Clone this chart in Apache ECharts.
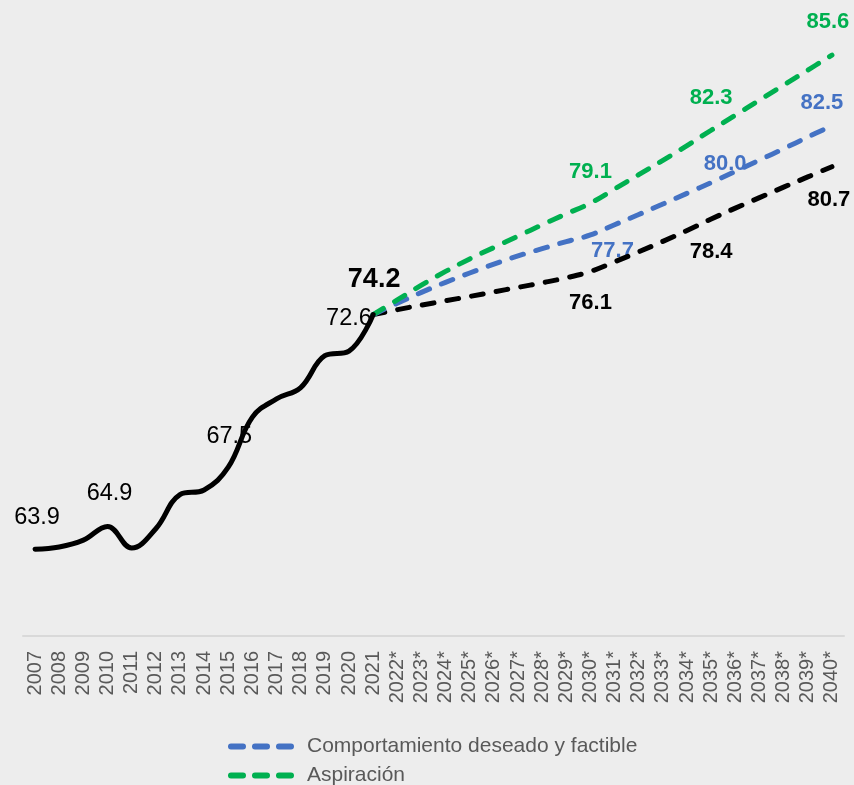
<!DOCTYPE html>
<html>
<head>
<meta charset="utf-8">
<script src="https://cdn.jsdelivr.net/npm/echarts@6/dist/echarts.min.js"></script>
<style>
  html, body { margin: 0; padding: 0; background: #ededed; }
  #chart { width: 854px; height: 785px; }
</style>
</head>
<body>
<div id="chart"></div>
<script>
// años (los marcados con * son proyección)
const years = [
  '2007', '2008', '2009', '2010', '2011', '2012', '2013', '2014', '2015', '2016',
  '2017', '2018', '2019', '2020', '2021', '2022*', '2023*', '2024*', '2025*', '2026*',
  '2027*', '2028*', '2029*', '2030*', '2031*', '2032*', '2033*', '2034*', '2035*', '2036*',
  '2037*', '2038*', '2039*', '2040*'
];

// 2007 - 2021
const historico = [63.9, 64.0, 64.3, 64.9, 63.95, 64.8, 66.3, 66.5, 67.5, 69.7, 70.5, 71.0, 72.4, 72.6, 74.2];

// 2021 - 2040
const tendencia = [74.2, 74.42, 74.62, 74.81, 75.0, 75.2, 75.4, 75.6, 75.82, 76.1, 76.52, 76.96, 77.42, 77.9, 78.4, 78.88, 79.34, 79.8, 80.25, 80.7];
const deseado = [74.2, 74.7, 75.18, 75.62, 76.03, 76.42, 76.78, 77.1, 77.41, 77.7, 78.15, 78.6, 79.06, 79.53, 80.0, 80.49, 80.99, 81.49, 82.0, 82.5];
const aspiracion = [74.2, 74.85, 75.5, 76.1, 76.65, 77.15, 77.65, 78.15, 78.63, 79.1, 79.72, 80.35, 80.98, 81.63, 82.3, 82.96, 83.62, 84.28, 84.94, 85.6];

// años con etiqueta
const etiquetasHistorico = ['2007', '2010', '2015', '2020'];
const etiquetaActual = '2021';
const etiquetasProyeccion = ['2030*', '2035*', '2040*'];

const nombreDeseado = 'Comportamiento deseado y factible';
const nombreAspiracion = 'Aspiración';

const fuente = 'Arial, "Liberation Sans", sans-serif';
const colores = { negro: '#000000', azul: '#4472c4', verde: '#00b050' };

// rellena con null fuera del tramo de la serie
const completar = (valores, inicio) =>
  years.map((_, i) => (i >= inicio && i - inicio < valores.length ? valores[i - inicio] : null));

// convierte a objetos con etiqueta los años indicados
const conEtiquetas = (valores, estilos) =>
  valores.map((v, i) => {
    const e = estilos[years[i]];
    if (v == null || !e) return v;
    return { value: v, label: Object.assign({ show: true }, e) };
  });

const inicioProy = years.indexOf('2021');

const serieHist = completar(historico, 0);
const serieTend = completar(tendencia, inicioProy);
const serieDes = completar(deseado, inicioProy);
const serieAsp = completar(aspiracion, inicioProy);

// posiciones de las etiquetas respecto al punto
const desplHist = [[2, -32], [2, -33], [1, -31], [0, -33]];
const estHist = {};
etiquetasHistorico.forEach((y, k) => { estHist[y] = { offset: desplHist[k] }; });
estHist[etiquetaActual] = { offset: [1, -35], fontSize: 27, fontWeight: 'bold' };

const desplTend = [[0, 32], [0, 33], [-3, 33]];
const desplDes = [[22, 16], [14, -19], [-10, -23]];
const desplAsp = [[0, -31], [0, -32], [-4, -33]];
const estilosProy = (despl) => {
  const r = {};
  etiquetasProyeccion.forEach((y, k) => { r[y] = { offset: despl[k] }; });
  return r;
};

const dash = [12, 13];

const serieLinea = (name, data, color, tipo, z) => ({
  name,
  type: 'line',
  data,
  z,
  smooth: 0.4,
  showSymbol: false,
  symbol: 'none',
  color,
  lineStyle: { color, width: 5, type: tipo, cap: 'round', join: 'round' },
  emphasis: { disabled: true },
  silent: true
});

// series invisibles que sólo llevan las etiquetas (quedan por debajo de las líneas)
const serieEtiquetas = (name, data, color, bold, size, z) => ({
  name,
  type: 'line',
  data,
  z,
  showSymbol: true,
  symbol: 'circle',
  symbolSize: 0,
  lineStyle: { width: 0, opacity: 0 },
  itemStyle: { color },
  label: {
    show: false,
    position: 'inside',
    color,
    fontFamily: fuente,
    fontSize: size,
    fontWeight: bold ? 'bold' : 'normal',
    formatter: (p) => Number(p.value).toFixed(1)
  },
  emphasis: { disabled: true },
  silent: true
});

const iconoGuion = 'path://M3,0h12a3,3 0 0 1 0,6h-12a3,3 0 0 1 0,-6z M27,0h12a3,3 0 0 1 0,6h-12a3,3 0 0 1 0,-6z M51,0h12a3,3 0 0 1 0,6h-12a3,3 0 0 1 0,-6z';

const chart = echarts.init(document.getElementById('chart'));

chart.setOption({
  backgroundColor: '#ededed',
  animation: false,
  grid: { left: 23, right: 10, top: 46, bottom: 147, containLabel: false },
  legend: {
    data: [nombreDeseado, nombreAspiracion],
    orient: 'vertical',
    left: 228,
    bottom: -1,
    padding: 0,
    icon: iconoGuion,
    itemWidth: 66,
    itemHeight: 6,
    itemGap: 8,
    selectedMode: false,
    textStyle: { color: '#595959', fontSize: 21, fontFamily: fuente, padding: [0, 0, 0, 8] }
  },
  xAxis: {
    type: 'category',
    data: years,
    boundaryGap: true,
    offset: -2,
    axisLine: { show: true, lineStyle: { color: '#d9d9d9', width: 2 } },
    axisTick: { show: false },
    axisLabel: {
      interval: 0,
      rotate: 90,
      margin: 15,
      color: '#595959',
      fontSize: 20,
      fontFamily: fuente
    },
    splitLine: { show: false }
  },
  yAxis: {
    type: 'value',
    min: 60,
    max: 86,
    show: false,
    splitLine: { show: false }
  },
  series: [
    serieEtiquetas('et-hist', conEtiquetas(serieHist, estHist), colores.negro, false, 23.5, 1),
    serieEtiquetas('et-tend', conEtiquetas(serieTend, estilosProy(desplTend)), colores.negro, true, 22, 1),
    serieEtiquetas('et-des', conEtiquetas(serieDes, estilosProy(desplDes)), colores.azul, true, 22, 1),
    serieEtiquetas('et-asp', conEtiquetas(serieAsp, estilosProy(desplAsp)), colores.verde, true, 22, 1),
    serieLinea('Tendencia', serieTend, colores.negro, dash, 2),
    serieLinea(nombreDeseado, serieDes, colores.azul, dash, 3),
    serieLinea(nombreAspiracion, serieAsp, colores.verde, dash, 4),
    serieLinea('Histórico', serieHist, colores.negro, 'solid', 5)
  ]
});
</script>
</body>
</html>
